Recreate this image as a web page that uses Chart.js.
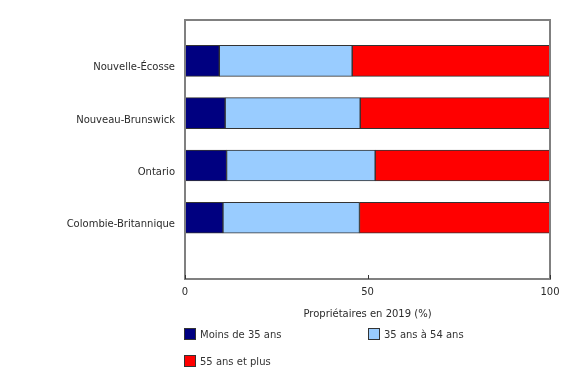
<!DOCTYPE html>
<html lang="fr">
<head>
<meta charset="utf-8">
<title>Propriétaires en 2019</title>
<script src="https://cdn.jsdelivr.net/npm/chart.js@4"></script>
<style>
  html, body { margin: 0; padding: 0; background: #fff; }
  #wrap { position: relative; width: 580px; height: 370px; }
  #legend {
    position: absolute; left: 184px; top: 328px;
    display: grid; grid-template-columns: 184px 184px; row-gap: 15px;
    font-family: "DejaVu Sans", Verdana, sans-serif; font-size: 10px; color: #333;
  }
  #legend .item { display: flex; align-items: center; height: 12px; }
  #legend .box { width: 10px; height: 10px; border: 1px solid #333; margin-right: 4px; }
</style>
</head>
<body>
<div id="wrap">
  <canvas id="ownersChart" width="580" height="370"></canvas>
  <div id="legend"></div>
</div>
<script>
// --- data ---
const provinces = ['Nouvelle-Écosse', 'Nouveau-Brunswick', 'Ontario', 'Colombie-Britannique'];
const under35 = [9.4, 11.0, 11.4, 10.4];
const from35to54 = [36.4, 37.0, 40.7, 37.4];
const over55 = [54.2, 52.0, 47.9, 52.2];
const seriesLabels = ['Moins de 35 ans', '35 ans à 54 ans', '55 ans et plus'];
const seriesColors = ['#000080', '#99ccff', '#ff0000'];
const xTicks = [0, 50, 100];
const xTitle = 'Propriétaires en 2019 (%)';

const FONT = '"DejaVu Sans", Verdana, sans-serif';
const TEXT = '#2b2b2b';

// provinces sit on a linear y scale (index 0..3) so the empty space below the last bar can be kept
function toPoints(values) {
    return values.map((v, i) => ({ x: v, y: i }));
}

// frame around the plot and small inward ticks on the x axis
const framePlugin = {
    id: 'frame',
    afterDraw(chart) {
        const { ctx, chartArea: a, scales } = chart;
        ctx.save();
        ctx.strokeStyle = '#808080';
        ctx.lineWidth = 2;
        ctx.strokeRect(a.left, a.top, a.right - a.left, a.bottom - a.top);
        ctx.strokeStyle = '#333';
        ctx.lineWidth = 1;
        xTicks.forEach(t => {
            const px = Math.round(scales.x.getPixelForValue(t)) + 0.5;
            ctx.beginPath();
            ctx.moveTo(px, a.bottom);
            ctx.lineTo(px, a.bottom - 4);
            ctx.stroke();
        });
        ctx.restore();
    }
};

const datasets = [under35, from35to54, over55].map((vals, i) => ({
    label: seriesLabels[i],
    data: toPoints(vals),
    backgroundColor: seriesColors[i],
    borderColor: '#333333',
    borderWidth: 1,
    borderSkipped: false,
    barThickness: 31
}));

new Chart(document.getElementById('ownersChart'), {
    type: 'bar',
    data: { datasets: datasets },
    options: {
        indexAxis: 'y',
        responsive: false,
        animation: false,
        events: [],
        layout: { padding: { top: 20, right: 30, bottom: 50, left: 0 } },
        plugins: {
            legend: { display: false },
            tooltip: { enabled: false }
        },
        scales: {
            x: {
                type: 'linear',
                stacked: true,
                min: 0,
                max: 100,
                afterBuildTicks(scale) { scale.ticks = xTicks.map(v => ({ value: v })); },
                afterFit(scale) { scale.height = 41; },
                grid: { display: false, drawTicks: false },
                border: { display: false },
                ticks: { color: TEXT, font: { family: FONT, size: 10 }, padding: 7, maxRotation: 0 },
                title: { display: true, text: xTitle, color: TEXT, font: { family: FONT, size: 10 }, padding: 0 }
            },
            y: {
                type: 'linear',
                stacked: true,
                reverse: true,
                offset: false,
                min: -0.78,
                max: 4.17,
                afterBuildTicks(scale) { scale.ticks = provinces.map((p, i) => ({ value: i })); },
                afterFit(scale) { scale.width = 185; },
                grid: { display: false, drawTicks: false },
                border: { display: false },
                ticks: {
                    color: TEXT,
                    font: { family: FONT, size: 10 },
                    padding: 10,
                    labelOffset: 7,
                    callback: v => provinces[v]
                }
            }
        }
    },
    plugins: [framePlugin]
});

// legend in two columns under the axis title
const legendEl = document.getElementById('legend');
seriesLabels.forEach((name, i) => {
    const item = document.createElement('div');
    item.className = 'item';
    item.innerHTML = '<span class="box" style="background:' + seriesColors[i] + '"></span>' + name;
    legendEl.appendChild(item);
});
</script>
</body>
</html>
